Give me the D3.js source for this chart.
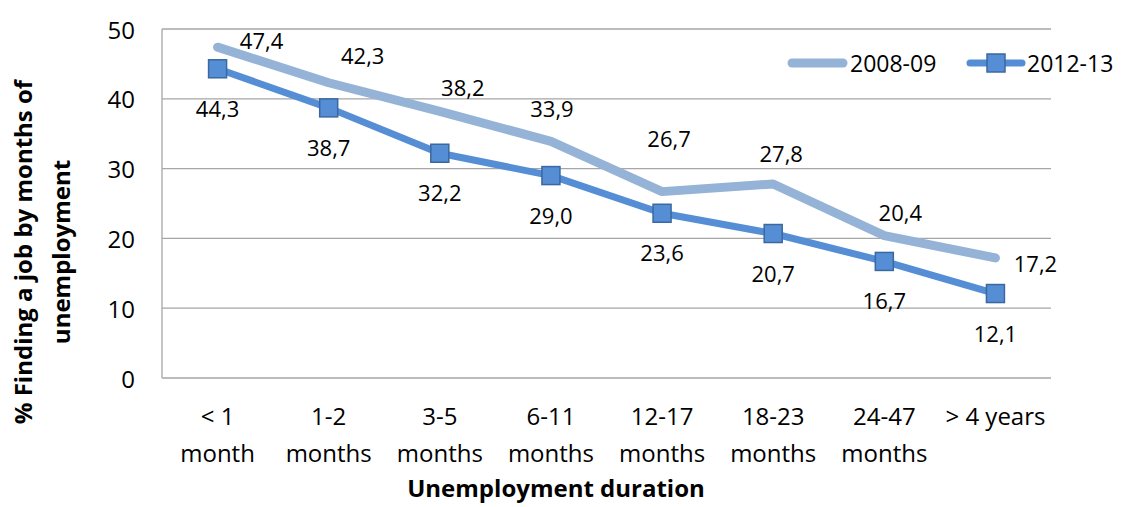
<!DOCTYPE html>
<html>
<head>
<meta charset="utf-8">
<script src="https://cdn.jsdelivr.net/npm/d3@7"></script>
<style>
  body { margin: 0; background: #fff; }
  text { font-family: "Open Sans", sans-serif; fill: #000; }
</style>
</head>
<body>
<svg id="drawing_region" width="1126" height="507"></svg>
<script>
// data
const categories = ["< 1\nmonth", "1-2\nmonths", "3-5\nmonths", "6-11\nmonths",
                    "12-17\nmonths", "18-23\nmonths", "24-47\nmonths", "> 4 years"];
const series2008 = [47.4, 42.3, 38.2, 33.9, 26.7, 27.8, 20.4, 17.2];
const series2012 = [44.3, 38.7, 32.2, 29.0, 23.6, 20.7, 16.7, 12.1];
const yTicks = [0, 10, 20, 30, 40, 50];
const seriesNames = ["2008-09", "2012-13"];

// hand placed labels of the light series (offset from its point)
const labelOffsets2008 = [[44,-7],[34,-28],[23,-24],[1,-33],[7,-54],[8,-31],[16,-24],[40,5]];

const svg = d3.select('#drawing_region');
const margin = {top: 29, right: 75, bottom: 129, left: 162};
const width = 1126 - margin.left - margin.right;
const height = 507 - margin.top - margin.bottom;

const x = d3.scalePoint().domain(d3.range(categories.length)).range([0, width]).padding(0.5);
const y = d3.scaleLinear().domain([0, 50]).range([height, 0]);

const g = svg.append('g').attr('transform', `translate(${margin.left},${margin.top})`);

// gridlines
g.selectAll('.grid').data(yTicks.slice(1)).enter().append('line')
    .attr('x1', 0).attr('x2', width)
    .attr('y1', d => y(d)).attr('y2', d => y(d))
    .attr('stroke', '#a6a6a6').attr('stroke-width', 1.3);

// axes lines
g.append('line').attr('x1', 0).attr('x2', 0).attr('y1', 0).attr('y2', height)
    .attr('stroke', '#a6a6a6').attr('stroke-width', 1.3);
g.append('line').attr('x1', 0).attr('x2', width).attr('y1', height).attr('y2', height)
    .attr('stroke', '#a6a6a6').attr('stroke-width', 1.3);

// y tick labels
g.selectAll('.ytick').data(yTicks).enter().append('text')
    .attr('x', -27).attr('y', d => y(d))
    .attr('text-anchor', 'end').attr('dominant-baseline', 'central')
    .style('font-size', '24px')
    .text(d => d);

// x tick labels
const xt = g.selectAll('.xtick').data(categories).enter().append('text')
    .attr('text-anchor', 'middle')
    .style('font-size', '24px');
xt.each(function(d, i) {
    d.split('\n').forEach((line, k) => {
        d3.select(this).append('tspan')
            .attr('x', x(i)).attr('y', height + 37 + k * 37)
            .attr('dominant-baseline', 'central')
            .text(line);
    });
});

// axis titles
svg.append('text')
    .attr('x', 556).attr('y', 487)
    .attr('text-anchor', 'middle').attr('dominant-baseline', 'central')
    .style('font-size', '24px').style('font-weight', 'bold')
    .text('Unemployment duration');

const yTitle = svg.append('text')
    .attr('transform', 'translate(0,252) rotate(-90)')
    .attr('text-anchor', 'middle')
    .style('font-size', '24px').style('font-weight', 'bold');
yTitle.append('tspan').attr('x', 0).attr('y', 22).attr('dominant-baseline', 'central')
    .text('% Finding a job by months of');
yTitle.append('tspan').attr('x', 0).attr('y', 60).attr('dominant-baseline', 'central')
    .text('unemployment');

// lines
const line = d3.line().x((d, i) => x(i)).y(d => y(d));

g.append('path').datum(series2008)
    .attr('d', line).attr('fill', 'none')
    .attr('stroke', '#95b3d7').attr('stroke-width', 9)
    .attr('stroke-linejoin', 'round').attr('stroke-linecap', 'round');

g.append('path').datum(series2012)
    .attr('d', line).attr('fill', 'none')
    .attr('stroke', '#558ed5').attr('stroke-width', 7)
    .attr('stroke-linejoin', 'round').attr('stroke-linecap', 'round');

// markers
g.selectAll('.marker').data(series2012).enter().append('rect')
    .attr('x', (d, i) => x(i) - 9).attr('y', d => y(d) - 9)
    .attr('width', 18).attr('height', 18)
    .attr('fill', '#558ed5').attr('stroke', '#3b68a0').attr('stroke-width', 1.5);

// data labels
g.selectAll('.lab08').data(series2008).enter().append('text')
    .attr('x', (d, i) => x(i) + labelOffsets2008[i][0])
    .attr('y', (d, i) => y(d) + labelOffsets2008[i][1])
    .attr('text-anchor', 'middle').attr('dominant-baseline', 'central')
    .style('font-size', '22px')
    .text(d => d.toFixed(1).replace('.', ','));

g.selectAll('.lab12').data(series2012).enter().append('text')
    .attr('x', (d, i) => x(i))
    .attr('y', d => y(d) + 39)
    .attr('text-anchor', 'middle').attr('dominant-baseline', 'central')
    .style('font-size', '22px')
    .text(d => d.toFixed(1).replace('.', ','));

// legend
const legend = svg.append('g');
legend.append('line').attr('x1', 792).attr('x2', 843).attr('y1', 63).attr('y2', 63)
    .attr('stroke', '#95b3d7').attr('stroke-width', 9).attr('stroke-linecap', 'round');
legend.append('text').attr('x', 850).attr('y', 63).attr('dominant-baseline', 'central')
    .style('font-size', '23px').text(seriesNames[0]);
legend.append('line').attr('x1', 970).attr('x2', 1022).attr('y1', 63).attr('y2', 63)
    .attr('stroke', '#558ed5').attr('stroke-width', 7).attr('stroke-linecap', 'round');
legend.append('rect').attr('x', 996 - 9).attr('y', 63 - 9).attr('width', 18).attr('height', 18)
    .attr('fill', '#558ed5').attr('stroke', '#3b68a0').attr('stroke-width', 1.5);
legend.append('text').attr('x', 1027).attr('y', 63).attr('dominant-baseline', 'central')
    .style('font-size', '23px').text(seriesNames[1]);
</script>
</body>
</html>
